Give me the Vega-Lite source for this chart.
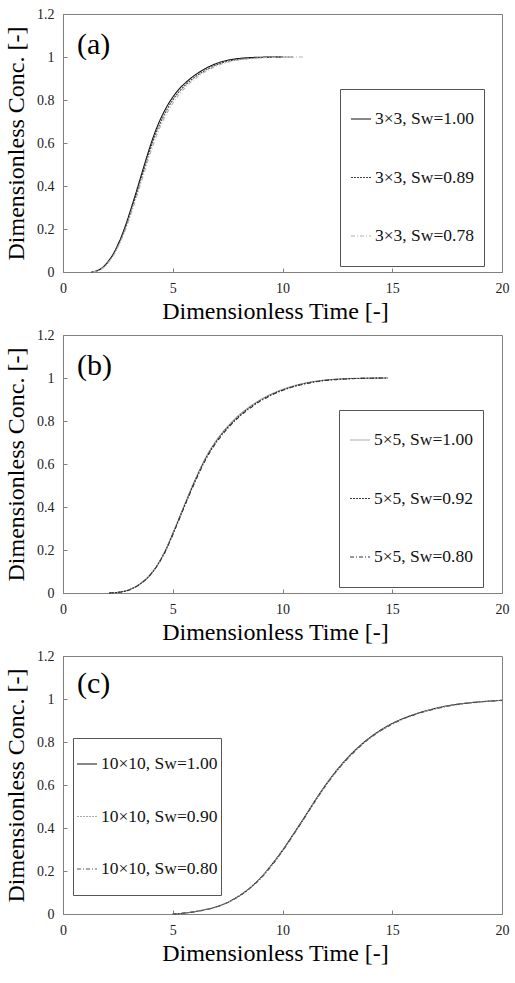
{
  "$schema": "https://vega.github.io/schema/vega-lite/v6.json",
  "autosize": {"type": "none"},
  "padding": {"left": 63, "top": 14, "right": 452, "bottom": 969},
  "background": "white",
  "config": {
    "font": "Liberation Serif",
    "view": {"stroke": "#808080", "strokeWidth": 1},
    "axis": {
      "grid": false,
      "domainColor": "#808080",
      "tickColor": "#808080",
      "tickSize": -4,
      "labelFont": "Liberation Serif",
      "labelFontSize": 14,
      "labelColor": "#222222",
      "labelFlush": false,
      "titleFont": "Liberation Serif",
      "titleFontSize": 24,
      "titleFontWeight": "normal",
      "titleColor": "#000000"
    },
    "line": {"strokeWidth": 1.1, "interpolate": "monotone"},
    "text": {"font": "Liberation Serif"}
  },
  "resolve": {
    "scale": {"x": "independent", "y": "independent", "color": "independent", "strokeDash": "independent"},
    "legend": {"color": "independent", "strokeDash": "independent"}
  },
  "datasets": {
    "a": [
      {"series": "3×3, Sw=1.00", "t": 1.3, "c": 0},
      {"series": "3×3, Sw=1.00", "t": 1.6, "c": 0.008},
      {"series": "3×3, Sw=1.00", "t": 1.85, "c": 0.025},
      {"series": "3×3, Sw=1.00", "t": 2.1, "c": 0.055},
      {"series": "3×3, Sw=1.00", "t": 2.3, "c": 0.086},
      {"series": "3×3, Sw=1.00", "t": 2.5, "c": 0.127},
      {"series": "3×3, Sw=1.00", "t": 2.7, "c": 0.175},
      {"series": "3×3, Sw=1.00", "t": 2.9, "c": 0.232},
      {"series": "3×3, Sw=1.00", "t": 3.1, "c": 0.295},
      {"series": "3×3, Sw=1.00", "t": 3.3, "c": 0.36},
      {"series": "3×3, Sw=1.00", "t": 3.5, "c": 0.428},
      {"series": "3×3, Sw=1.00", "t": 3.7, "c": 0.496},
      {"series": "3×3, Sw=1.00", "t": 3.9, "c": 0.562},
      {"series": "3×3, Sw=1.00", "t": 4.1, "c": 0.624},
      {"series": "3×3, Sw=1.00", "t": 4.3, "c": 0.678},
      {"series": "3×3, Sw=1.00", "t": 4.5, "c": 0.724},
      {"series": "3×3, Sw=1.00", "t": 4.75, "c": 0.773},
      {"series": "3×3, Sw=1.00", "t": 5.0, "c": 0.813},
      {"series": "3×3, Sw=1.00", "t": 5.3, "c": 0.852},
      {"series": "3×3, Sw=1.00", "t": 5.6, "c": 0.882},
      {"series": "3×3, Sw=1.00", "t": 6.0, "c": 0.915},
      {"series": "3×3, Sw=1.00", "t": 6.4, "c": 0.941},
      {"series": "3×3, Sw=1.00", "t": 6.8, "c": 0.962},
      {"series": "3×3, Sw=1.00", "t": 7.2, "c": 0.977},
      {"series": "3×3, Sw=1.00", "t": 7.6, "c": 0.987},
      {"series": "3×3, Sw=1.00", "t": 8.0, "c": 0.993},
      {"series": "3×3, Sw=1.00", "t": 8.5, "c": 0.997},
      {"series": "3×3, Sw=1.00", "t": 9.0, "c": 0.999},
      {"series": "3×3, Sw=1.00", "t": 10.0, "c": 1.0},
      {"series": "3×3, Sw=0.89", "t": 1.3, "c": 0},
      {"series": "3×3, Sw=0.89", "t": 1.6, "c": 0.007},
      {"series": "3×3, Sw=0.89", "t": 1.85, "c": 0.023},
      {"series": "3×3, Sw=0.89", "t": 2.1, "c": 0.052},
      {"series": "3×3, Sw=0.89", "t": 2.3, "c": 0.082},
      {"series": "3×3, Sw=0.89", "t": 2.5, "c": 0.121},
      {"series": "3×3, Sw=0.89", "t": 2.7, "c": 0.167},
      {"series": "3×3, Sw=0.89", "t": 2.9, "c": 0.222},
      {"series": "3×3, Sw=0.89", "t": 3.1, "c": 0.283},
      {"series": "3×3, Sw=0.89", "t": 3.3, "c": 0.347},
      {"series": "3×3, Sw=0.89", "t": 3.5, "c": 0.414},
      {"series": "3×3, Sw=0.89", "t": 3.7, "c": 0.481},
      {"series": "3×3, Sw=0.89", "t": 3.9, "c": 0.547},
      {"series": "3×3, Sw=0.89", "t": 4.1, "c": 0.608},
      {"series": "3×3, Sw=0.89", "t": 4.3, "c": 0.662},
      {"series": "3×3, Sw=0.89", "t": 4.5, "c": 0.708},
      {"series": "3×3, Sw=0.89", "t": 4.75, "c": 0.758},
      {"series": "3×3, Sw=0.89", "t": 5.0, "c": 0.8},
      {"series": "3×3, Sw=0.89", "t": 5.3, "c": 0.84},
      {"series": "3×3, Sw=0.89", "t": 5.6, "c": 0.872},
      {"series": "3×3, Sw=0.89", "t": 6.0, "c": 0.906},
      {"series": "3×3, Sw=0.89", "t": 6.4, "c": 0.933},
      {"series": "3×3, Sw=0.89", "t": 6.8, "c": 0.955},
      {"series": "3×3, Sw=0.89", "t": 7.2, "c": 0.971},
      {"series": "3×3, Sw=0.89", "t": 7.6, "c": 0.982},
      {"series": "3×3, Sw=0.89", "t": 8.0, "c": 0.989},
      {"series": "3×3, Sw=0.89", "t": 8.5, "c": 0.994},
      {"series": "3×3, Sw=0.89", "t": 9.0, "c": 0.997},
      {"series": "3×3, Sw=0.89", "t": 9.5, "c": 0.999},
      {"series": "3×3, Sw=0.89", "t": 10.5, "c": 1.0},
      {"series": "3×3, Sw=0.78", "t": 1.35, "c": 0},
      {"series": "3×3, Sw=0.78", "t": 1.6, "c": 0.006},
      {"series": "3×3, Sw=0.78", "t": 1.85, "c": 0.021},
      {"series": "3×3, Sw=0.78", "t": 2.1, "c": 0.048},
      {"series": "3×3, Sw=0.78", "t": 2.3, "c": 0.077},
      {"series": "3×3, Sw=0.78", "t": 2.5, "c": 0.115},
      {"series": "3×3, Sw=0.78", "t": 2.7, "c": 0.159},
      {"series": "3×3, Sw=0.78", "t": 2.9, "c": 0.211},
      {"series": "3×3, Sw=0.78", "t": 3.1, "c": 0.27},
      {"series": "3×3, Sw=0.78", "t": 3.3, "c": 0.332},
      {"series": "3×3, Sw=0.78", "t": 3.5, "c": 0.397},
      {"series": "3×3, Sw=0.78", "t": 3.7, "c": 0.463},
      {"series": "3×3, Sw=0.78", "t": 3.9, "c": 0.528},
      {"series": "3×3, Sw=0.78", "t": 4.1, "c": 0.589},
      {"series": "3×3, Sw=0.78", "t": 4.3, "c": 0.644},
      {"series": "3×3, Sw=0.78", "t": 4.5, "c": 0.691},
      {"series": "3×3, Sw=0.78", "t": 4.75, "c": 0.742},
      {"series": "3×3, Sw=0.78", "t": 5.0, "c": 0.785},
      {"series": "3×3, Sw=0.78", "t": 5.3, "c": 0.827},
      {"series": "3×3, Sw=0.78", "t": 5.6, "c": 0.861},
      {"series": "3×3, Sw=0.78", "t": 6.0, "c": 0.897},
      {"series": "3×3, Sw=0.78", "t": 6.4, "c": 0.926},
      {"series": "3×3, Sw=0.78", "t": 6.8, "c": 0.949},
      {"series": "3×3, Sw=0.78", "t": 7.2, "c": 0.966},
      {"series": "3×3, Sw=0.78", "t": 7.6, "c": 0.978},
      {"series": "3×3, Sw=0.78", "t": 8.0, "c": 0.986},
      {"series": "3×3, Sw=0.78", "t": 8.5, "c": 0.992},
      {"series": "3×3, Sw=0.78", "t": 9.0, "c": 0.996},
      {"series": "3×3, Sw=0.78", "t": 9.5, "c": 0.998},
      {"series": "3×3, Sw=0.78", "t": 10.0, "c": 0.999},
      {"series": "3×3, Sw=0.78", "t": 11.0, "c": 1.0}
    ],
    "b": [
      {"series": "5×5, Sw=1.00", "t": 2.1, "c": 0},
      {"series": "5×5, Sw=1.00", "t": 2.5, "c": 0.003},
      {"series": "5×5, Sw=1.00", "t": 2.9, "c": 0.011},
      {"series": "5×5, Sw=1.00", "t": 3.2, "c": 0.024},
      {"series": "5×5, Sw=1.00", "t": 3.5, "c": 0.042},
      {"series": "5×5, Sw=1.00", "t": 3.8, "c": 0.067},
      {"series": "5×5, Sw=1.00", "t": 4.1, "c": 0.102},
      {"series": "5×5, Sw=1.00", "t": 4.4, "c": 0.148},
      {"series": "5×5, Sw=1.00", "t": 4.7, "c": 0.207},
      {"series": "5×5, Sw=1.00", "t": 5.0, "c": 0.278},
      {"series": "5×5, Sw=1.00", "t": 5.3, "c": 0.352},
      {"series": "5×5, Sw=1.00", "t": 5.6, "c": 0.427},
      {"series": "5×5, Sw=1.00", "t": 5.9, "c": 0.5},
      {"series": "5×5, Sw=1.00", "t": 6.2, "c": 0.568},
      {"series": "5×5, Sw=1.00", "t": 6.5, "c": 0.63},
      {"series": "5×5, Sw=1.00", "t": 6.8, "c": 0.682},
      {"series": "5×5, Sw=1.00", "t": 7.1, "c": 0.726},
      {"series": "5×5, Sw=1.00", "t": 7.5, "c": 0.775},
      {"series": "5×5, Sw=1.00", "t": 8.0, "c": 0.826},
      {"series": "5×5, Sw=1.00", "t": 8.5, "c": 0.866},
      {"series": "5×5, Sw=1.00", "t": 9.0, "c": 0.9},
      {"series": "5×5, Sw=1.00", "t": 9.5, "c": 0.926},
      {"series": "5×5, Sw=1.00", "t": 10.0, "c": 0.947},
      {"series": "5×5, Sw=1.00", "t": 10.5, "c": 0.963},
      {"series": "5×5, Sw=1.00", "t": 11.0, "c": 0.976},
      {"series": "5×5, Sw=1.00", "t": 11.5, "c": 0.985},
      {"series": "5×5, Sw=1.00", "t": 12.0, "c": 0.991},
      {"series": "5×5, Sw=1.00", "t": 12.5, "c": 0.995},
      {"series": "5×5, Sw=1.00", "t": 13.0, "c": 0.997},
      {"series": "5×5, Sw=1.00", "t": 13.5, "c": 0.999},
      {"series": "5×5, Sw=1.00", "t": 14.0, "c": 0.9995},
      {"series": "5×5, Sw=1.00", "t": 14.8, "c": 1.0},
      {"series": "5×5, Sw=0.92", "t": 2.1, "c": 0},
      {"series": "5×5, Sw=0.92", "t": 2.5, "c": 0.003},
      {"series": "5×5, Sw=0.92", "t": 2.9, "c": 0.011},
      {"series": "5×5, Sw=0.92", "t": 3.2, "c": 0.023},
      {"series": "5×5, Sw=0.92", "t": 3.5, "c": 0.041},
      {"series": "5×5, Sw=0.92", "t": 3.8, "c": 0.066},
      {"series": "5×5, Sw=0.92", "t": 4.1, "c": 0.1},
      {"series": "5×5, Sw=0.92", "t": 4.4, "c": 0.146},
      {"series": "5×5, Sw=0.92", "t": 4.7, "c": 0.204},
      {"series": "5×5, Sw=0.92", "t": 5.0, "c": 0.274},
      {"series": "5×5, Sw=0.92", "t": 5.3, "c": 0.348},
      {"series": "5×5, Sw=0.92", "t": 5.6, "c": 0.422},
      {"series": "5×5, Sw=0.92", "t": 5.9, "c": 0.495},
      {"series": "5×5, Sw=0.92", "t": 6.2, "c": 0.563},
      {"series": "5×5, Sw=0.92", "t": 6.5, "c": 0.625},
      {"series": "5×5, Sw=0.92", "t": 6.8, "c": 0.677},
      {"series": "5×5, Sw=0.92", "t": 7.1, "c": 0.721},
      {"series": "5×5, Sw=0.92", "t": 7.5, "c": 0.77},
      {"series": "5×5, Sw=0.92", "t": 8.0, "c": 0.821},
      {"series": "5×5, Sw=0.92", "t": 8.5, "c": 0.862},
      {"series": "5×5, Sw=0.92", "t": 9.0, "c": 0.896},
      {"series": "5×5, Sw=0.92", "t": 9.5, "c": 0.923},
      {"series": "5×5, Sw=0.92", "t": 10.0, "c": 0.944},
      {"series": "5×5, Sw=0.92", "t": 10.5, "c": 0.961},
      {"series": "5×5, Sw=0.92", "t": 11.0, "c": 0.974},
      {"series": "5×5, Sw=0.92", "t": 11.5, "c": 0.983},
      {"series": "5×5, Sw=0.92", "t": 12.0, "c": 0.99},
      {"series": "5×5, Sw=0.92", "t": 12.5, "c": 0.994},
      {"series": "5×5, Sw=0.92", "t": 13.0, "c": 0.997},
      {"series": "5×5, Sw=0.92", "t": 13.5, "c": 0.998},
      {"series": "5×5, Sw=0.92", "t": 14.0, "c": 0.999},
      {"series": "5×5, Sw=0.92", "t": 14.8, "c": 1.0},
      {"series": "5×5, Sw=0.80", "t": 2.1, "c": 0},
      {"series": "5×5, Sw=0.80", "t": 2.5, "c": 0.003},
      {"series": "5×5, Sw=0.80", "t": 2.9, "c": 0.01},
      {"series": "5×5, Sw=0.80", "t": 3.2, "c": 0.022},
      {"series": "5×5, Sw=0.80", "t": 3.5, "c": 0.04},
      {"series": "5×5, Sw=0.80", "t": 3.8, "c": 0.065},
      {"series": "5×5, Sw=0.80", "t": 4.1, "c": 0.099},
      {"series": "5×5, Sw=0.80", "t": 4.4, "c": 0.144},
      {"series": "5×5, Sw=0.80", "t": 4.7, "c": 0.201},
      {"series": "5×5, Sw=0.80", "t": 5.0, "c": 0.27},
      {"series": "5×5, Sw=0.80", "t": 5.3, "c": 0.344},
      {"series": "5×5, Sw=0.80", "t": 5.6, "c": 0.418},
      {"series": "5×5, Sw=0.80", "t": 5.9, "c": 0.49},
      {"series": "5×5, Sw=0.80", "t": 6.2, "c": 0.558},
      {"series": "5×5, Sw=0.80", "t": 6.5, "c": 0.62},
      {"series": "5×5, Sw=0.80", "t": 6.8, "c": 0.672},
      {"series": "5×5, Sw=0.80", "t": 7.1, "c": 0.716},
      {"series": "5×5, Sw=0.80", "t": 7.5, "c": 0.765},
      {"series": "5×5, Sw=0.80", "t": 8.0, "c": 0.817},
      {"series": "5×5, Sw=0.80", "t": 8.5, "c": 0.858},
      {"series": "5×5, Sw=0.80", "t": 9.0, "c": 0.893},
      {"series": "5×5, Sw=0.80", "t": 9.5, "c": 0.92},
      {"series": "5×5, Sw=0.80", "t": 10.0, "c": 0.942},
      {"series": "5×5, Sw=0.80", "t": 10.5, "c": 0.959},
      {"series": "5×5, Sw=0.80", "t": 11.0, "c": 0.972},
      {"series": "5×5, Sw=0.80", "t": 11.5, "c": 0.982},
      {"series": "5×5, Sw=0.80", "t": 12.0, "c": 0.989},
      {"series": "5×5, Sw=0.80", "t": 12.5, "c": 0.993},
      {"series": "5×5, Sw=0.80", "t": 13.0, "c": 0.996},
      {"series": "5×5, Sw=0.80", "t": 13.5, "c": 0.998},
      {"series": "5×5, Sw=0.80", "t": 14.0, "c": 0.999},
      {"series": "5×5, Sw=0.80", "t": 14.8, "c": 1.0}
    ],
    "c": [
      {"series": "10×10, Sw=1.00", "t": 5.0, "c": 0},
      {"series": "10×10, Sw=1.00", "t": 5.5, "c": 0.004},
      {"series": "10×10, Sw=1.00", "t": 6.0, "c": 0.011},
      {"series": "10×10, Sw=1.00", "t": 6.5, "c": 0.021},
      {"series": "10×10, Sw=1.00", "t": 7.0, "c": 0.034},
      {"series": "10×10, Sw=1.00", "t": 7.5, "c": 0.054},
      {"series": "10×10, Sw=1.00", "t": 8.0, "c": 0.083},
      {"series": "10×10, Sw=1.00", "t": 8.5, "c": 0.12},
      {"series": "10×10, Sw=1.00", "t": 9.0, "c": 0.168},
      {"series": "10×10, Sw=1.00", "t": 9.5, "c": 0.228},
      {"series": "10×10, Sw=1.00", "t": 10.0, "c": 0.296},
      {"series": "10×10, Sw=1.00", "t": 10.5, "c": 0.372},
      {"series": "10×10, Sw=1.00", "t": 11.0, "c": 0.45},
      {"series": "10×10, Sw=1.00", "t": 11.5, "c": 0.53},
      {"series": "10×10, Sw=1.00", "t": 12.0, "c": 0.605},
      {"series": "10×10, Sw=1.00", "t": 12.5, "c": 0.672},
      {"series": "10×10, Sw=1.00", "t": 13.0, "c": 0.73},
      {"series": "10×10, Sw=1.00", "t": 13.5, "c": 0.78},
      {"series": "10×10, Sw=1.00", "t": 14.0, "c": 0.822},
      {"series": "10×10, Sw=1.00", "t": 14.5, "c": 0.857},
      {"series": "10×10, Sw=1.00", "t": 15.0, "c": 0.886},
      {"series": "10×10, Sw=1.00", "t": 15.5, "c": 0.909},
      {"series": "10×10, Sw=1.00", "t": 16.0, "c": 0.928},
      {"series": "10×10, Sw=1.00", "t": 16.5, "c": 0.944},
      {"series": "10×10, Sw=1.00", "t": 17.0, "c": 0.957},
      {"series": "10×10, Sw=1.00", "t": 17.5, "c": 0.968},
      {"series": "10×10, Sw=1.00", "t": 18.0, "c": 0.976},
      {"series": "10×10, Sw=1.00", "t": 18.5, "c": 0.982},
      {"series": "10×10, Sw=1.00", "t": 19.0, "c": 0.987},
      {"series": "10×10, Sw=1.00", "t": 19.5, "c": 0.991},
      {"series": "10×10, Sw=1.00", "t": 20.0, "c": 0.994},
      {"series": "10×10, Sw=0.90", "t": 5.0, "c": 0},
      {"series": "10×10, Sw=0.90", "t": 5.5, "c": 0.004},
      {"series": "10×10, Sw=0.90", "t": 6.0, "c": 0.011},
      {"series": "10×10, Sw=0.90", "t": 6.5, "c": 0.021},
      {"series": "10×10, Sw=0.90", "t": 7.0, "c": 0.034},
      {"series": "10×10, Sw=0.90", "t": 7.5, "c": 0.054},
      {"series": "10×10, Sw=0.90", "t": 8.0, "c": 0.082},
      {"series": "10×10, Sw=0.90", "t": 8.5, "c": 0.119},
      {"series": "10×10, Sw=0.90", "t": 9.0, "c": 0.167},
      {"series": "10×10, Sw=0.90", "t": 9.5, "c": 0.226},
      {"series": "10×10, Sw=0.90", "t": 10.0, "c": 0.294},
      {"series": "10×10, Sw=0.90", "t": 10.5, "c": 0.37},
      {"series": "10×10, Sw=0.90", "t": 11.0, "c": 0.448},
      {"series": "10×10, Sw=0.90", "t": 11.5, "c": 0.528},
      {"series": "10×10, Sw=0.90", "t": 12.0, "c": 0.603},
      {"series": "10×10, Sw=0.90", "t": 12.5, "c": 0.67},
      {"series": "10×10, Sw=0.90", "t": 13.0, "c": 0.728},
      {"series": "10×10, Sw=0.90", "t": 13.5, "c": 0.778},
      {"series": "10×10, Sw=0.90", "t": 14.0, "c": 0.82},
      {"series": "10×10, Sw=0.90", "t": 14.5, "c": 0.855},
      {"series": "10×10, Sw=0.90", "t": 15.0, "c": 0.884},
      {"series": "10×10, Sw=0.90", "t": 15.5, "c": 0.908},
      {"series": "10×10, Sw=0.90", "t": 16.0, "c": 0.927},
      {"series": "10×10, Sw=0.90", "t": 16.5, "c": 0.943},
      {"series": "10×10, Sw=0.90", "t": 17.0, "c": 0.956},
      {"series": "10×10, Sw=0.90", "t": 17.5, "c": 0.967},
      {"series": "10×10, Sw=0.90", "t": 18.0, "c": 0.975},
      {"series": "10×10, Sw=0.90", "t": 18.5, "c": 0.982},
      {"series": "10×10, Sw=0.90", "t": 19.0, "c": 0.987},
      {"series": "10×10, Sw=0.90", "t": 19.5, "c": 0.991},
      {"series": "10×10, Sw=0.90", "t": 20.0, "c": 0.994},
      {"series": "10×10, Sw=0.80", "t": 5.0, "c": 0},
      {"series": "10×10, Sw=0.80", "t": 5.5, "c": 0.004},
      {"series": "10×10, Sw=0.80", "t": 6.0, "c": 0.01},
      {"series": "10×10, Sw=0.80", "t": 6.5, "c": 0.02},
      {"series": "10×10, Sw=0.80", "t": 7.0, "c": 0.033},
      {"series": "10×10, Sw=0.80", "t": 7.5, "c": 0.053},
      {"series": "10×10, Sw=0.80", "t": 8.0, "c": 0.081},
      {"series": "10×10, Sw=0.80", "t": 8.5, "c": 0.118},
      {"series": "10×10, Sw=0.80", "t": 9.0, "c": 0.165},
      {"series": "10×10, Sw=0.80", "t": 9.5, "c": 0.224},
      {"series": "10×10, Sw=0.80", "t": 10.0, "c": 0.292},
      {"series": "10×10, Sw=0.80", "t": 10.5, "c": 0.368},
      {"series": "10×10, Sw=0.80", "t": 11.0, "c": 0.446},
      {"series": "10×10, Sw=0.80", "t": 11.5, "c": 0.526},
      {"series": "10×10, Sw=0.80", "t": 12.0, "c": 0.601},
      {"series": "10×10, Sw=0.80", "t": 12.5, "c": 0.668},
      {"series": "10×10, Sw=0.80", "t": 13.0, "c": 0.726},
      {"series": "10×10, Sw=0.80", "t": 13.5, "c": 0.776},
      {"series": "10×10, Sw=0.80", "t": 14.0, "c": 0.819},
      {"series": "10×10, Sw=0.80", "t": 14.5, "c": 0.854},
      {"series": "10×10, Sw=0.80", "t": 15.0, "c": 0.883},
      {"series": "10×10, Sw=0.80", "t": 15.5, "c": 0.907},
      {"series": "10×10, Sw=0.80", "t": 16.0, "c": 0.926},
      {"series": "10×10, Sw=0.80", "t": 16.5, "c": 0.942},
      {"series": "10×10, Sw=0.80", "t": 17.0, "c": 0.955},
      {"series": "10×10, Sw=0.80", "t": 17.5, "c": 0.966},
      {"series": "10×10, Sw=0.80", "t": 18.0, "c": 0.975},
      {"series": "10×10, Sw=0.80", "t": 18.5, "c": 0.981},
      {"series": "10×10, Sw=0.80", "t": 19.0, "c": 0.986},
      {"series": "10×10, Sw=0.80", "t": 19.5, "c": 0.99},
      {"series": "10×10, Sw=0.80", "t": 20.0, "c": 0.993}
    ]
  },
  "vconcat": [
    {
      "width": 439,
      "height": 258,
      "layer": [
        {
          "data": {"name": "a"},
          "mark": {"type": "line"},
          "encoding": {
            "x": {"field": "t", "type": "quantitative", "scale": {"domain": [0, 20]},
                  "axis": {"values": [0, 5, 10, 15, 20], "title": "Dimensionless Time [-]", "labelPadding": 13, "titlePadding": 4, "titleX": 212}},
            "y": {"field": "c", "type": "quantitative", "scale": {"domain": [0, 1.2]},
                  "axis": {"values": [0, 0.2, 0.4, 0.6, 0.8, 1, 1.2], "format": "~g", "title": "Dimensionless Conc. [-]", "labelPadding": 13, "titlePadding": 8}},
            "color": {"field": "series", "type": "nominal",
                      "scale": {"domain": ["3×3, Sw=1.00", "3×3, Sw=0.89", "3×3, Sw=0.78"], "range": ["#111111", "#444444", "#b0b0b0"]},
                      "legend": {"title": null, "orient": "none", "legendX": 277, "legendY": 75, "padding": 10, "clipHeight": 40, "rowPadding": 18.5, "symbolType": "stroke", "symbolSize": 400, "symbolStrokeWidth": 1.3, "labelOffset": 3, "labelFont": "Liberation Serif", "labelFontSize": 17.5, "labelColor": "#111111", "strokeColor": "#555555", "fillColor": "white"}},
            "strokeDash": {"field": "series", "type": "nominal",
                      "scale": {"domain": ["3×3, Sw=1.00", "3×3, Sw=0.89", "3×3, Sw=0.78"], "range": [[1, 0], [2, 1], [4, 2, 1, 2]]},
                      "legend": {"title": null, "orient": "none", "legendX": 277, "legendY": 75, "padding": 10, "clipHeight": 40, "rowPadding": 18.5, "symbolType": "stroke", "symbolSize": 400, "symbolStrokeWidth": 1.3, "labelOffset": 3, "labelFont": "Liberation Serif", "labelFontSize": 17.5, "labelColor": "#111111", "strokeColor": "#555555", "fillColor": "white"}}
          }
        },
        {
          "data": {"values": [{"tag": "(a)", "t": 0.64, "c": 1.015}]},
          "mark": {"type": "text", "align": "left", "baseline": "alphabetic", "fontSize": 30, "color": "#000000"},
          "encoding": {
            "x": {"field": "t", "type": "quantitative"},
            "y": {"field": "c", "type": "quantitative"},
            "text": {"field": "tag"}
          }
        }
      ]
    },
    {
      "width": 439,
      "height": 258,
      "layer": [
        {
          "data": {"name": "b"},
          "mark": {"type": "line"},
          "encoding": {
            "x": {"field": "t", "type": "quantitative", "scale": {"domain": [0, 20]},
                  "axis": {"values": [0, 5, 10, 15, 20], "title": "Dimensionless Time [-]", "labelPadding": 13, "titlePadding": 4, "titleX": 212}},
            "y": {"field": "c", "type": "quantitative", "scale": {"domain": [0, 1.2]},
                  "axis": {"values": [0, 0.2, 0.4, 0.6, 0.8, 1, 1.2], "format": "~g", "title": "Dimensionless Conc. [-]", "labelPadding": 13, "titlePadding": 8}},
            "color": {"field": "series", "type": "nominal",
                      "scale": {"domain": ["5×5, Sw=1.00", "5×5, Sw=0.92", "5×5, Sw=0.80"], "range": ["#aaaaaa", "#333333", "#333333"]},
                      "legend": {"title": null, "orient": "none", "legendX": 276, "legendY": 75, "padding": 10, "clipHeight": 40, "rowPadding": 18.5, "symbolType": "stroke", "symbolSize": 400, "symbolStrokeWidth": 1.3, "labelOffset": 3, "labelFont": "Liberation Serif", "labelFontSize": 17.5, "labelColor": "#111111", "strokeColor": "#555555", "fillColor": "white"}},
            "strokeDash": {"field": "series", "type": "nominal",
                      "scale": {"domain": ["5×5, Sw=1.00", "5×5, Sw=0.92", "5×5, Sw=0.80"], "range": [[1, 0], [2, 1], [4, 2, 1, 2]]},
                      "legend": {"title": null, "orient": "none", "legendX": 276, "legendY": 75, "padding": 10, "clipHeight": 40, "rowPadding": 18.5, "symbolType": "stroke", "symbolSize": 400, "symbolStrokeWidth": 1.3, "labelOffset": 3, "labelFont": "Liberation Serif", "labelFontSize": 17.5, "labelColor": "#111111", "strokeColor": "#555555", "fillColor": "white"}}
          }
        },
        {
          "data": {"values": [{"tag": "(b)", "t": 0.64, "c": 1.015}]},
          "mark": {"type": "text", "align": "left", "baseline": "alphabetic", "fontSize": 30, "color": "#000000"},
          "encoding": {
            "x": {"field": "t", "type": "quantitative"},
            "y": {"field": "c", "type": "quantitative"},
            "text": {"field": "tag"}
          }
        }
      ]
    },
    {
      "width": 439,
      "height": 258,
      "layer": [
        {
          "data": {"name": "c"},
          "mark": {"type": "line"},
          "encoding": {
            "x": {"field": "t", "type": "quantitative", "scale": {"domain": [0, 20]},
                  "axis": {"values": [0, 5, 10, 15, 20], "title": "Dimensionless Time [-]", "labelPadding": 13, "titlePadding": 4, "titleX": 212}},
            "y": {"field": "c", "type": "quantitative", "scale": {"domain": [0, 1.2]},
                  "axis": {"values": [0, 0.2, 0.4, 0.6, 0.8, 1, 1.2], "format": "~g", "title": "Dimensionless Conc. [-]", "labelPadding": 13, "titlePadding": 8}},
            "color": {"field": "series", "type": "nominal",
                      "scale": {"domain": ["10×10, Sw=1.00", "10×10, Sw=0.90", "10×10, Sw=0.80"], "range": ["#111111", "#aaaaaa", "#555555"]},
                      "legend": {"title": null, "orient": "none", "legendX": 10, "legendY": 82, "padding": 3, "clipHeight": 46, "rowPadding": 6.5, "symbolType": "stroke", "symbolSize": 400, "symbolStrokeWidth": 1.3, "labelOffset": 3, "labelFont": "Liberation Serif", "labelFontSize": 17.5, "labelColor": "#111111", "strokeColor": "#555555", "fillColor": "white"}},
            "strokeDash": {"field": "series", "type": "nominal",
                      "scale": {"domain": ["10×10, Sw=1.00", "10×10, Sw=0.90", "10×10, Sw=0.80"], "range": [[1, 0], [2, 1], [4, 2, 1, 2]]},
                      "legend": {"title": null, "orient": "none", "legendX": 10, "legendY": 82, "padding": 3, "clipHeight": 46, "rowPadding": 6.5, "symbolType": "stroke", "symbolSize": 400, "symbolStrokeWidth": 1.3, "labelOffset": 3, "labelFont": "Liberation Serif", "labelFontSize": 17.5, "labelColor": "#111111", "strokeColor": "#555555", "fillColor": "white"}}
          }
        },
        {
          "data": {"values": [{"tag": "(c)", "t": 0.64, "c": 1.03}]},
          "mark": {"type": "text", "align": "left", "baseline": "alphabetic", "fontSize": 30, "color": "#000000"},
          "encoding": {
            "x": {"field": "t", "type": "quantitative"},
            "y": {"field": "c", "type": "quantitative"},
            "text": {"field": "tag"}
          }
        }
      ]
    }
  ],
  "spacing": 63,
  "bounds": "flush"
}
